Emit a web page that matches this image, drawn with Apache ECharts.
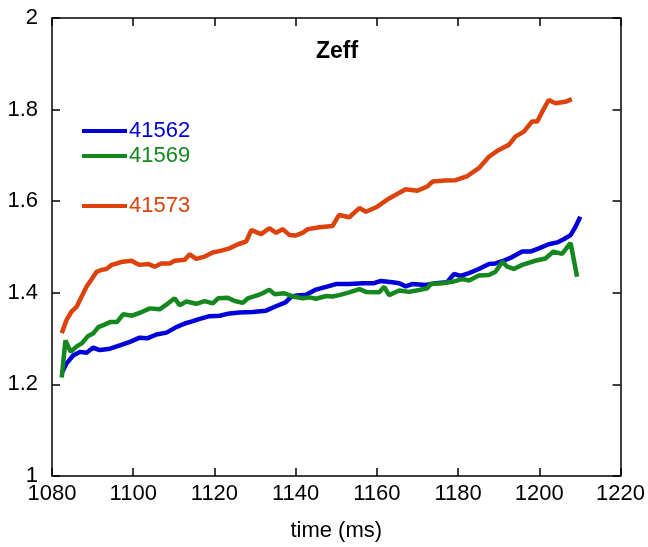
<!DOCTYPE html>
<html>
<head>
<meta charset="utf-8">
<script src="https://cdn.jsdelivr.net/npm/echarts@6/dist/echarts.min.js"></script>
<style>
  html, body { margin: 0; padding: 0; background: #fff; }
  #chart { width: 648px; height: 547px; }
</style>
</head>
<body>
<div id="chart"></div>
<script>
// 41562 (blue)
const t41562 = [1082.4, 1083.6, 1085.2, 1086.9, 1088.5, 1090.1, 1091.8, 1094.3, 1096.7, 1099.2,
  1101.6, 1103.6, 1105.7, 1108.2, 1110.6, 1112.7, 1114.7, 1116.4, 1118.8, 1121.3,
  1123.7, 1126.2, 1129.4, 1132.7, 1135.0, 1137.5, 1139.0, 1140.4, 1142.6, 1145.0,
  1147.5, 1149.9, 1153.2, 1156.5, 1159.3, 1161.0, 1163.8, 1165.5, 1167.1, 1168.7,
  1172.0, 1174.5, 1177.3, 1179.0, 1180.6, 1182.7, 1185.1, 1187.6, 1189.2, 1190.9,
  1193.3, 1195.8, 1197.8, 1199.9, 1202.3, 1204.4, 1206.0, 1207.7, 1208.9, 1210.1];
const z41562 = [1.225, 1.246, 1.263, 1.271, 1.269, 1.280, 1.275, 1.278, 1.285, 1.293,
  1.302, 1.301, 1.309, 1.313, 1.325, 1.333, 1.338, 1.343, 1.349, 1.350,
  1.355, 1.357, 1.358, 1.361, 1.370, 1.379, 1.392, 1.394, 1.396, 1.407,
  1.413, 1.419, 1.419, 1.421, 1.421, 1.426, 1.423, 1.421, 1.414, 1.419,
  1.417, 1.421, 1.423, 1.441, 1.437, 1.443, 1.452, 1.463, 1.464, 1.469,
  1.478, 1.490, 1.490, 1.497, 1.506, 1.510, 1.517, 1.526, 1.544, 1.566];

// 41569 (green)
const t41569 = [1082.4, 1083.3, 1084.6, 1086.1, 1087.4, 1088.8, 1090.1, 1091.4, 1092.8, 1094.3,
  1096.0, 1097.5, 1099.7, 1102.1, 1104.1, 1106.5, 1108.6, 1110.2, 1111.4, 1113.1,
  1115.5, 1117.6, 1119.6, 1120.9, 1123.3, 1125.0, 1127.0, 1128.2, 1130.7, 1131.9,
  1133.5, 1134.8, 1137.2, 1139.3, 1141.7, 1143.4, 1145.0, 1147.5, 1149.1, 1150.7,
  1153.2, 1155.7, 1157.3, 1160.6, 1161.8, 1163.0, 1165.5, 1167.9, 1170.4, 1172.4,
  1173.3, 1176.1, 1178.6, 1181.0, 1182.7, 1185.1, 1187.6, 1189.2, 1190.9, 1192.1,
  1193.7, 1195.8, 1199.0, 1201.5, 1203.5, 1205.6, 1207.7, 1209.3];
const z41569 = [1.215, 1.296, 1.271, 1.283, 1.290, 1.305, 1.311, 1.325, 1.330, 1.336,
  1.336, 1.353, 1.350, 1.358, 1.366, 1.364, 1.377, 1.388, 1.373, 1.381,
  1.376, 1.382, 1.377, 1.388, 1.389, 1.382, 1.378, 1.388, 1.395, 1.399,
  1.407, 1.397, 1.399, 1.392, 1.388, 1.390, 1.387, 1.393, 1.392, 1.395,
  1.401, 1.408, 1.402, 1.401, 1.413, 1.395, 1.405, 1.402, 1.406, 1.410,
  1.419, 1.421, 1.424, 1.430, 1.427, 1.438, 1.439, 1.446, 1.468, 1.457,
  1.452, 1.461, 1.470, 1.475, 1.490, 1.485, 1.509, 1.435];

// 41573 (orange)
const t41573 = [1082.4, 1083.6, 1084.8, 1086.1, 1087.3, 1088.5, 1089.8, 1091.0, 1092.2, 1093.4,
  1094.7, 1095.9, 1097.4, 1099.6, 1100.8, 1101.6, 1103.6, 1105.3, 1106.9, 1109.0,
  1110.2, 1112.7, 1113.9, 1115.5, 1117.6, 1119.6, 1121.7, 1123.7, 1125.8, 1127.8,
  1129.1, 1131.5, 1133.5, 1135.2, 1136.8, 1138.5, 1139.9, 1141.7, 1143.0, 1145.8,
  1149.1, 1150.7, 1153.2, 1155.7, 1157.3, 1160.1, 1163.0, 1167.1, 1170.0, 1172.4,
  1173.7, 1176.9, 1179.4, 1182.3, 1185.1, 1187.6, 1190.0, 1192.5, 1194.1, 1196.2,
  1198.2, 1199.5, 1200.7, 1202.3, 1204.0, 1206.4, 1208.0];
const z41573 = [1.312, 1.341, 1.359, 1.370, 1.392, 1.413, 1.430, 1.446, 1.450, 1.452,
  1.461, 1.464, 1.468, 1.470, 1.464, 1.461, 1.463, 1.457, 1.464, 1.464,
  1.470, 1.472, 1.484, 1.474, 1.479, 1.488, 1.492, 1.497, 1.506, 1.512,
  1.537, 1.528, 1.541, 1.531, 1.539, 1.526, 1.525, 1.531, 1.539, 1.543,
  1.546, 1.570, 1.565, 1.585, 1.577, 1.588, 1.606, 1.626, 1.623, 1.632,
  1.643, 1.645, 1.646, 1.655, 1.672, 1.697, 1.712, 1.723, 1.741, 1.752,
  1.774, 1.774, 1.795, 1.821, 1.814, 1.817, 1.823];

const xTicks = [1080, 1220, 20];
const yTicks = [1, 2, 0.2];

const blue = "#0000d8";
const green = "#15871f";
const orange = "#dc420c";
const font = "Liberation Sans";

const pairs = (t, z) => t.map((v, i) => [v, z[i]]);

const axisCommon = {
  axisLine: { show: true, onZero: false, lineStyle: { color: "#000", width: 1.5 } },
  axisTick: { show: true, inside: true, length: 8, lineStyle: { color: "#000", width: 1.5 } },
  splitLine: { show: false }
};

const chart = echarts.init(document.getElementById("chart"));
chart.setOption({
  animation: false,
  textStyle: { fontFamily: font },
  title: {
    text: "Zeff", left: 311, top: 35,
    textStyle: { fontFamily: font, fontSize: 23, fontWeight: "bold", color: "#000" }
  },
  legend: [
    { data: ["41562"], top: 115 },
    { data: ["41569"], top: 140 },
    { data: ["41573"], top: 190 }
  ].map((l, i) => Object.assign(l, {
    left: 77, orient: "vertical", icon: "rect", itemWidth: 45, itemHeight: 4,
    textStyle: { fontFamily: font, fontSize: 22, color: [blue, green, orange][i], padding: [0, 0, 0, -3] }
  })),
  grid: { left: 52, right: 26, top: 18, bottom: 71 },
  xAxis: [
    Object.assign({
      type: "value", min: xTicks[0], max: xTicks[1], interval: xTicks[2], position: "bottom",
      name: "time (ms)", nameLocation: "middle", nameGap: 44,
      nameTextStyle: { fontFamily: font, fontSize: 22, color: "#000" },
      axisLabel: { fontFamily: font, fontSize: 22, color: "#000", margin: 7, formatter: v => String(v) }
    }, axisCommon),
    Object.assign({
      type: "value", min: xTicks[0], max: xTicks[1], interval: xTicks[2], position: "top",
      axisLabel: { show: false }
    }, axisCommon)
  ],
  yAxis: [
    Object.assign({
      type: "value", min: yTicks[0], max: yTicks[1], interval: yTicks[2], position: "left",
      axisLabel: { fontFamily: font, fontSize: 22, color: "#000", margin: 14 }
    }, axisCommon),
    Object.assign({
      type: "value", min: yTicks[0], max: yTicks[1], interval: yTicks[2], position: "right",
      axisLabel: { show: false }
    }, axisCommon)
  ],
  series: [
    { name: "41562", type: "line", data: pairs(t41562, z41562), color: blue },
    { name: "41569", type: "line", data: pairs(t41569, z41569), color: green },
    { name: "41573", type: "line", data: pairs(t41573, z41573), color: orange }
  ].map(s => Object.assign(s, {
    showSymbol: false, symbol: "none", lineStyle: { width: 4.5, color: s.color }, z: 3
  }))
});
</script>
</body>
</html>
